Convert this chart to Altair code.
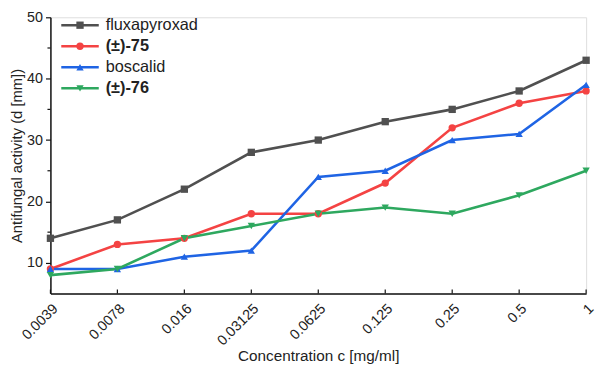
import altair as alt
import pandas as pd

concentrations = ["0.0039", "0.0078", "0.016", "0.03125", "0.0625", "0.125", "0.25", "0.5", "1"]
series = ["fluxapyroxad", "(±)-75", "boscalid", "(±)-76"]
fluxapyroxad = [14, 17, 22, 28, 30, 33, 35, 38, 43]
cmpd75 = [9, 13, 14, 18, 18, 23, 32, 36, 38]
boscalid = [9, 9, 11, 12, 24, 25, 30, 31, 39]
cmpd76 = [8, 9, 14, 16, 18, 19, 18, 21, 25]
bold_series = ["(±)-75", "(±)-76"]
y_major = [10, 20, 30, 40, 50]
y_minor = [15, 25, 35, 45]

colors = ["#505050", "#f44343", "#1f64e4", "#2ea85f"]
shapes = ["square", "circle", "triangle-up", "triangle-down"]

rows = []
for name, vals in zip(series, [fluxapyroxad, cmpd75, boscalid, cmpd76]):
    for c, v in zip(concentrations, vals):
        rows.append({"series": name, "conc": c, "value": v})
df = pd.DataFrame(rows)
leg_df = pd.DataFrame({"series": series, "bold": [s in bold_series for s in series]})
minor_df = pd.DataFrame({"v": y_minor})
tick_df = pd.DataFrame({"conc": concentrations})

W, H = 543, 280
PAD_L, PAD_T = 43, 7
TOTAL_W, TOTAL_H = 595, 356
FONT = "Liberation Sans"

color_scale = alt.Scale(domain=series, range=colors)
shape_scale = alt.Scale(domain=series, range=shapes)
y_scale = alt.Scale(domain=[5, 50], nice=False, zero=False)
x_scale = alt.Scale(domain=concentrations, type="point", padding=0)

x_enc = alt.X("conc:N", sort=concentrations, scale=x_scale,
              axis=alt.Axis(title="Concentration c [mg/ml]", labelAngle=-45, labelAlign="right",
                            labelBaseline="top", ticks=False, labelPadding=8, titlePadding=1,
                            domainColor="#111", domainWidth=1.5, labelColor="#222",
                            titleColor="#222", labelFontSize=14.5, titleFontSize=15.5,
                            titleFontWeight="normal", labelFont=FONT, titleFont=FONT,
                            grid=False))
y_enc = alt.Y("value:Q", scale=y_scale,
              axis=alt.Axis(title="Antifungal activity (d [mm])", values=y_major, tickSize=5,
                            tickColor="#111", tickWidth=1.2, domainColor="#111", domainWidth=1.5,
                            labelColor="#222", titleColor="#222", labelFontSize=14.5,
                            titleFontSize=15, titleFontWeight="normal", labelFont=FONT,
                            titleFont=FONT, titlePadding=2, labelPadding=3, grid=False))

base = alt.Chart(df)
lines = base.mark_line(strokeWidth=2.6).encode(
    x=x_enc, y=y_enc,
    color=alt.Color("series:N", scale=color_scale, legend=None),
    detail="series:N",
)
points = base.mark_point(filled=True, size=55, opacity=1).encode(
    x=alt.X("conc:N", sort=concentrations, scale=x_scale),
    y=alt.Y("value:Q", scale=y_scale),
    color=alt.Color("series:N", scale=color_scale, legend=None),
    shape=alt.Shape("series:N", scale=shape_scale, legend=None),
)
minor = alt.Chart(minor_df).mark_rule(color="#111", strokeWidth=1.2).encode(
    y=alt.Y("v:Q", scale=y_scale),
    x=alt.value(-3), x2=alt.value(0),
)
xticks = alt.Chart(tick_df).mark_rule(color="#111", strokeWidth=1.2).encode(
    x=alt.X("conc:N", sort=concentrations, scale=x_scale),
    y=alt.value(H - 4), y2=alt.value(H),
)
main = alt.layer(lines, points, minor, xticks)

leg_y = alt.Y("series:N", sort=series, scale=alt.Scale(type="point", domain=series, range=[8, 72], padding=0), axis=None)
leg_base = alt.Chart(leg_df)
leg_line = leg_base.mark_rule(strokeWidth=2.6).encode(
    y=leg_y, x=alt.value(11), x2=alt.value(49),
    color=alt.Color("series:N", scale=color_scale, legend=None),
)
leg_pt = leg_base.mark_point(filled=True, size=55, opacity=1).encode(
    y=leg_y, x=alt.value(30),
    color=alt.Color("series:N", scale=color_scale, legend=None),
    shape=alt.Shape("series:N", scale=shape_scale, legend=None),
)
leg_txt_norm = leg_base.transform_filter("!datum.bold").mark_text(
    align="left", baseline="middle", fontSize=16.5, font=FONT, color="#222").encode(
    y=leg_y, x=alt.value(56), text="series:N")
leg_txt_bold = leg_base.transform_filter("datum.bold").mark_text(
    align="left", baseline="middle", fontSize=16.5, font=FONT, color="#222", fontWeight="bold").encode(
    y=leg_y, x=alt.value(56), text="series:N")
legend = alt.layer(leg_line, leg_pt, leg_txt_norm, leg_txt_bold)

chart = alt.layer(main, legend).resolve_scale(y="independent").properties(
    width=W, height=H,
    autosize=alt.AutoSizeParams(type="none"),
    padding={"left": PAD_L, "top": PAD_T, "right": TOTAL_W - PAD_L - W, "bottom": TOTAL_H - PAD_T - H},
).configure_view(stroke=None).configure(background="white")

chart.save("out.html", embed_options={"renderer": "svg", "actions": False})
